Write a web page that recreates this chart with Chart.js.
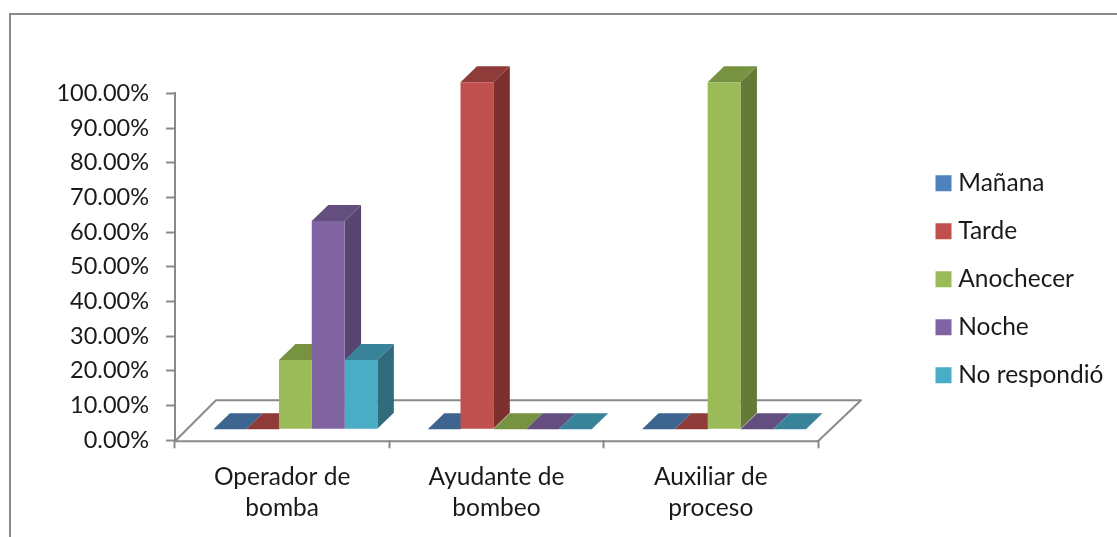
<!DOCTYPE html>
<html>
<head>
<meta charset="utf-8">
<title>Turno por puesto</title>
<script src="https://cdn.jsdelivr.net/npm/chart.js@4/dist/chart.umd.min.js"></script>
<style>
    body { margin: 0; background: #fff; overflow: hidden; }
    #frame {
        position: absolute; left: 9px; top: 13px; right: 0; bottom: 0;
        border: solid #8a8a8a; border-width: 2px 0 0 2px;
    }
    #chart { position: absolute; left: 0; top: 0; }
</style>
</head>
<body>
<div id="frame"></div>
<canvas id="chart" width="1117" height="537"></canvas>
<script>
const categories = [["Operador de", "bomba"], ["Ayudante de", "bombeo"], ["Auxiliar de", "proceso"]];
const seriesNames = ["Mañana", "Tarde", "Anochecer", "Noche", "No respondió"];

const manana = [0, 0, 0];
const tarde = [0, 100, 0];
const anochecer = [20, 0, 100];
const noche = [60, 0, 0];
const noRespondio = [20, 0, 0];

const tickLabels = ["0.00%", "10.00%", "20.00%", "30.00%", "40.00%", "50.00%", "60.00%", "70.00%", "80.00%", "90.00%", "100.00%"];

// Face colours for each series: front, top, side.
const frontColors = ["#4f81bd", "#c0504d", "#9bbb59", "#8064a2", "#4bacc6"];
const topColors = ["#3e6590", "#8f3b39", "#779240", "#644e80", "#38839a"];
const sideColors = ["#335375", "#7c302e", "#667a38", "#574570", "#316c7d"];

const axisColor = "#8a8a8a";
const textColor = "#1a1a1a";
const fontFamily = "Lato, sans-serif";

// Bars stand on the floor, shifted from the axis corner, and have a fixed depth.
const barShift = { x: 13.2, y: -11 };
const depth = { x: 16.5, y: -16 };
const floorBack = { left: 41, right: 43, y: -40 };
const rightGutter = 299;
const legendLeft = 917.5;
const legendShift = -36;

function polygon(ctx, points, fill) {
    ctx.beginPath();
    points.forEach((p, i) => i ? ctx.lineTo(p[0], p[1]) : ctx.moveTo(p[0], p[1]));
    ctx.closePath();
    if (fill) {
        ctx.fillStyle = fill;
        ctx.fill();
    }
}

const box3d = {
    id: "box3d",

    // Legend sits further right than the layout would place it.
    afterLayout(chart) {
        const legend = chart.legend;
        legend.left = legendLeft;
        legend.right = legendLeft + legend.width;
        legend.top += legendShift;
        legend.bottom += legendShift;
    },

    beforeDatasetsDraw(chart) {
        const ctx = chart.ctx;
        const area = chart.chartArea;

        // Floor.
        const front = area.bottom + 1;
        const back = area.bottom + floorBack.y;
        ctx.save();
        polygon(ctx, [
            [area.left, front],
            [area.left + floorBack.left, back],
            [area.right + floorBack.right, back],
            [area.right, front],
        ]);
        ctx.strokeStyle = axisColor;
        ctx.lineWidth = 2;
        ctx.lineJoin = "round";
        ctx.stroke();
        ctx.restore();

        // Everything from here to afterDatasetsDraw is drawn on the floor plane.
        ctx.save();
        ctx.translate(barShift.x, barShift.y);

        // Top and side faces of each bar, the fronts come from the library.
        chart.data.datasets.forEach((dataset, d) => {
            chart.getDatasetMeta(d).data.forEach((bar) => {
                const left = bar.x - bar.width / 2;
                const right = bar.x + bar.width / 2;
                polygon(ctx, [
                    [right, bar.y],
                    [right + depth.x, bar.y + depth.y],
                    [right + depth.x, bar.base + depth.y],
                    [right, bar.base],
                ], sideColors[d]);
                polygon(ctx, [
                    [left, bar.y],
                    [right, bar.y],
                    [right + depth.x, bar.y + depth.y],
                    [left + depth.x, bar.y + depth.y],
                ], topColors[d]);
            });
        });
    },

    afterDatasetsDraw(chart) {
        chart.ctx.restore();
    },
};

const seriesValues = [manana, tarde, anochecer, noche, noRespondio];

const chart = new Chart(document.getElementById("chart"), {
    type: "bar",
    data: {
        labels: categories,
        datasets: seriesNames.map((name, i) => ({
            label: name,
            data: seriesValues[i],
            backgroundColor: frontColors[i],
            borderWidth: 0,
            barPercentage: 1,
            categoryPercentage: 0.765,
            clip: false,
        })),
    },
    options: {
        responsive: false,
        animation: false,
        layout: { padding: { top: 93.3, right: 100 } },
        plugins: {
            tooltip: { enabled: false },
            legend: {
                position: "right",
                labels: {
                    usePointStyle: true,
                    pointStyle: "rect",
                    boxWidth: 5,
                    boxHeight: 16,
                    padding: 23.5,
                    color: textColor,
                    font: { family: fontFamily, size: 24.5 },
                },
            },
        },
        scales: {
            x: {
                afterFit: (scale) => { scale.height = 96.7; },
                border: { display: false },
                grid: {
                    drawOnChartArea: false,
                    tickColor: axisColor,
                    tickWidth: 2,
                    tickLength: 8,
                },
                ticks: {
                    autoSkip: false,
                    maxRotation: 0,
                    padding: 13,
                    color: textColor,
                    font: { family: fontFamily, size: 24.5, lineHeight: 1.27 },
                },
            },
            y: {
                min: 0,
                max: 100,
                afterFit: (scale) => { scale.width = 175; },
                border: { color: axisColor, width: 2 },
                grid: {
                    drawOnChartArea: false,
                    tickColor: axisColor,
                    tickWidth: 2,
                    tickLength: 9,
                },
                ticks: {
                    stepSize: 10,
                    padding: 17,
                    color: textColor,
                    font: { family: fontFamily, size: 23.5 },
                    callback: (value, index) => tickLabels[index],
                },
            },
        },
    },
    plugins: [box3d],
});

// Reserve the gutter to the right of the plot whatever the legend's width is.
chart.options.layout.padding.right = rightGutter - chart.legend.width;
chart.update();
</script>
</body>
</html>
